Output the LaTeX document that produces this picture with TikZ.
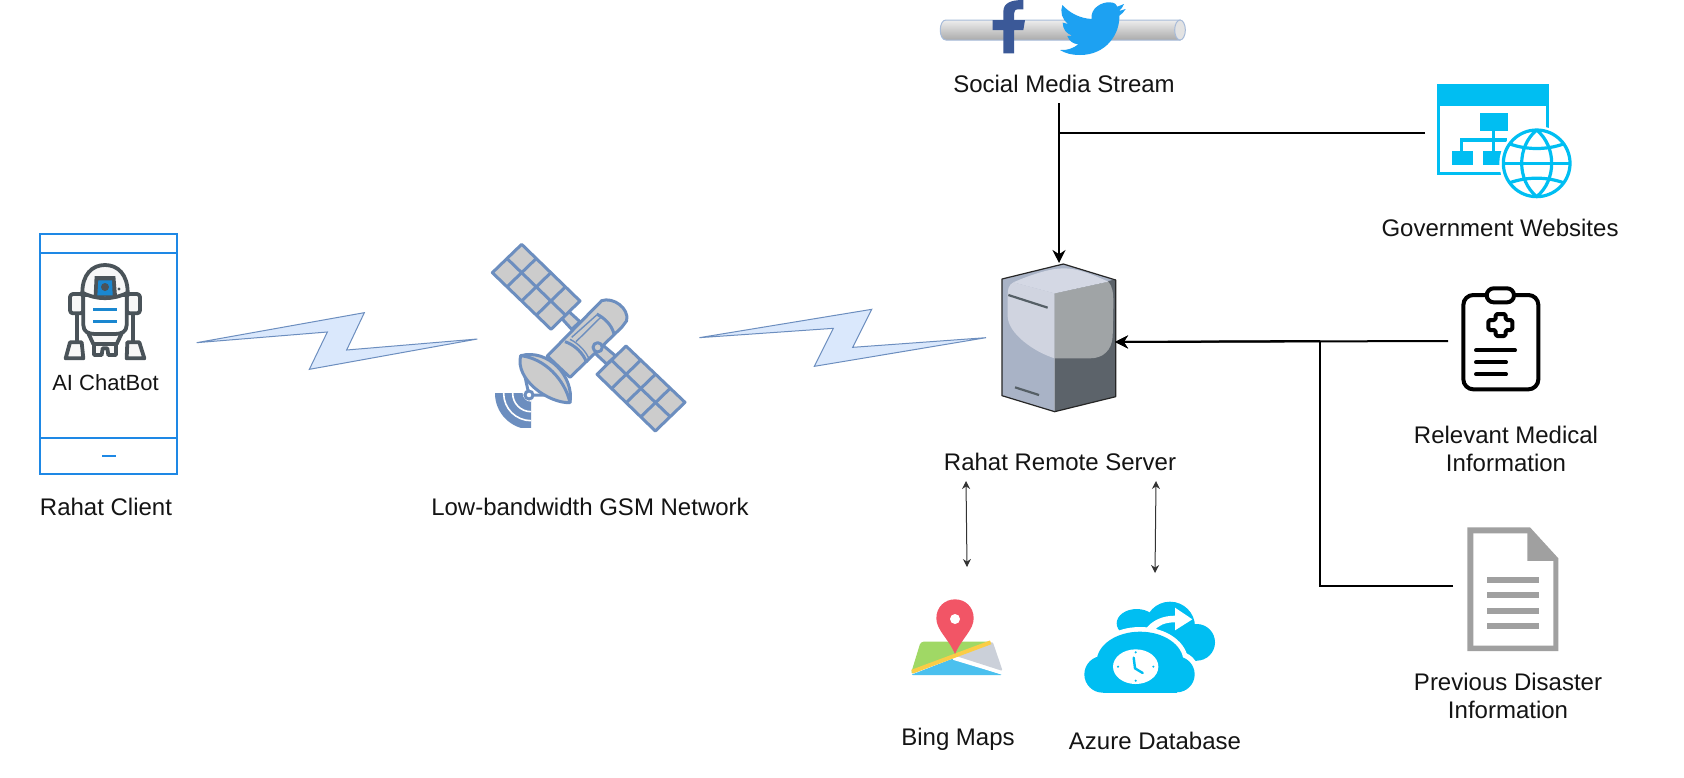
\documentclass[tikz,border=0pt]{standalone}
\usepackage{fontspec}
\setmainfont{Liberation Sans}
\usetikzlibrary{arrows.meta}
\definecolor{cyanicon}{HTML}{00BEF2}
\definecolor{robotgrey}{HTML}{4A5359}
\definecolor{robotblue}{HTML}{1A87D0}
\definecolor{phoneblue}{HTML}{1E88E5}
\definecolor{satblue}{HTML}{6C8EBF}
\definecolor{flashfill}{HTML}{DAE8FC}
\definecolor{docgrey}{HTML}{A0A0A0}
\tikzset{
  zoomat/.style 2 args={shift={(#1,#2)},x=0.16667pt,y=-0.16667pt},
  lbl/.style={font=\fontsize{12}{14}\selectfont,text=black!92,inner sep=0pt,align=center},
  smalllbl/.style={lbl,font=\fontsize{11}{13}\selectfont},
  link/.style={draw=black,line width=1pt},
  linkarrow/.style={link,-{Stealth[length=6.5pt,width=6.5pt]}},
  bidir/.style={draw=black!80,line width=0.5pt,{Stealth[length=4pt,width=4pt]}-{Stealth[length=4pt,width=4pt]}},
  flash/.style={draw=satblue,fill=flashfill,line width=0.5pt,line join=miter},
  phone/.style={draw=phoneblue,line width=1.1pt},
  satpart/.style={draw=satblue,fill=black!20,line width=1.5pt,line join=round},
  satline/.style={draw=satblue,line width=1.5pt},
  rob/.style={draw=robotgrey,fill=black!3,line width=1.9pt,line join=round,line cap=round},
  govline/.style={draw=cyanicon,line width=1.6pt},
  medline/.style={draw=black,line width=2pt,line cap=round},
}
\begin{document}
\begin{tikzpicture}[x=0.5pt,y=-0.5pt]
\useasboundingbox (0,0) rectangle (1684,777);
\fill[white] (0,0) rectangle (1684,777);

% anchors of connectors
\coordinate (socialOut) at (1059,103);
\coordinate (serverTop) at (1059,263);
\coordinate (govJoin) at (1059,133);
\coordinate (govIn) at (1425,133);
\coordinate (serverRight) at (1115,342);
\coordinate (medIn) at (1448,341);
\coordinate (docJoin) at (1320,341);
\coordinate (docCorner) at (1320,586);
\coordinate (docIn) at (1453,586);
\coordinate (bingA) at (966,481);
\coordinate (bingB) at (967,567);
\coordinate (azureA) at (1156,481);
\coordinate (azureB) at (1155,573);

% phone
\draw[phone] (40,234) rectangle (177,474);
\draw[phone] (40,253) -- (177,253);
\draw[phone] (40,438) -- (177,438);
\draw[phone] (102,456) -- (116,456);

% robot
\begin{scope}[zoomat={20}{220}]
  \draw[rob] (170,280) -- (170,365);
  \draw[rob] (340,280) -- (340,365);
  \draw[rob,rounded corners=1.5pt] (150,222) rectangle (190,280);
  \draw[rob,rounded corners=1.5pt] (320,222) rectangle (360,280);
  \draw[rob] (150,367) -- (185,367) -- (190,415) -- (137,415) -- cycle;
  \draw[rob] (322,367) -- (358,367) -- (373,415) -- (320,415) -- cycle;
  \draw[rob] (205,340) -- (305,340) -- (290,372) -- (220,372) -- cycle;
  \draw[rob] (222,372) -- (288,372) -- (288,405) -- (265,405) -- (262,385) -- (248,385) -- (245,405) -- (222,405) -- cycle;
  \draw[rob,fill=white] (190,225) -- (190,315) .. controls (190,335) and (205,342) .. (225,342) -- (285,342) .. controls (305,342) and (320,335) .. (320,315) -- (320,225) -- cycle;
  \draw[rob] (187,218) .. controls (187,165) and (215,135) .. (255,135) .. controls (295,135) and (323,165) .. (323,218) .. controls (280,240) and (230,240) .. (187,218) -- cycle;
  \fill[robotgrey] (224,168) -- (286,168) -- (291,229) -- (221,229) -- cycle;
  \fill[robotblue] (235,181) -- (276,181) -- (278,226) -- (232,226) -- cycle;
  \fill[robotgrey] (255,201) circle[radius=12];
  \fill[robotgrey] (297,207) circle[radius=5];
  \draw[draw=robotblue,line width=1.8pt] (220,268) -- (290,268);
  \draw[draw=robotblue,line width=1.8pt] (220,305) -- (290,305);
\end{scope}

% flashes
\begin{scope}[zoomat={190}{300}]
  \draw[flash] (20,128) -- (523,38) -- (470,150) -- (862,117) -- (358,208) -- (412,96) -- cycle;
\end{scope}
\begin{scope}[zoomat={690}{300}]
  \draw[flash] (28,113) -- (545,28) -- (488,142) -- (888,113) -- (373,199) -- (430,85) -- cycle;
\end{scope}

% satellite
\begin{scope}[zoomat={470}{230}]
  % signal waves
  \begin{scope}
    \clip (75,490) rectangle (183,593);
    \fill[satblue] (183,490) circle[radius=108];
    \draw[white,line width=0.8pt] (183,490) circle[radius=82];
    \draw[white,line width=0.8pt] (183,490) circle[radius=55];
    \fill[white] (183,490) circle[radius=25];
  \end{scope}
  % arms
  \draw[satpart] (297,245) -- (330,275) -- (305,298) -- (275,265) -- cycle;
  \draw[satpart] (392,340) -- (437,378) -- (410,402) -- (370,365) -- cycle;
  % panels
  \foreach \ax/\ay/\bx/\by/\cx/\cy/\dx/\dy in {155/43/330/213/243/298/67/128,468/348/645/517/556/603/381/433}{
    \draw[satpart] (\ax,\ay) -- (\bx,\by) -- (\cx,\cy) -- (\dx,\dy) -- cycle;
    \draw[satline] ({(\ax+\dx)/2},{(\ay+\dy)/2}) -- ({(\bx+\cx)/2},{(\by+\cy)/2});
    \foreach \t in {0.25,0.5,0.75}{
      \draw[satline] ({\ax+\t*(\bx-\ax)},{\ay+\t*(\by-\ay)}) -- ({\dx+\t*(\cx-\dx)},{\dy+\t*(\cy-\dy)});
    }
  }
  % body
  \draw[satpart] (232,378) -- (395,212) .. controls (430,200) and (478,235) .. (470,272) -- (455,292) -- (300,442) -- cycle;
  \draw[satline] (380,252) .. controls (405,265) and (425,285) .. (432,312);
  \draw[satline] (285,335) .. controls (315,345) and (340,370) .. (350,398);
  \draw[draw=satblue,line width=0.7pt] (300,328) .. controls (325,340) and (350,365) .. (358,390);
  \draw[draw=satblue,line width=0.7pt] (305,322) -- (380,255);
  \draw[draw=satblue,line width=0.7pt] (318,335) -- (392,262);
  \draw[satpart] (383,352) circle[radius=14];
  % dish
  \draw[satline] (165,440) -- (177,495) -- (300,495);
  \draw[satpart] (152,377) .. controls (235,355) and (313,440) .. (300,518) .. controls (235,520) and (134,448) .. (152,377) -- cycle;
  \draw[satline] (152,377) .. controls (225,385) and (285,450) .. (300,518);
  \draw[satline,fill=white] (177,495) circle[radius=12];
\end{scope}

% social media pipe
\begin{scope}[zoomat={920}{0}]
  \draw[draw=satblue!60,line width=0.5pt,top color=black!7,bottom color=black!33] (78,60) -- (780,60) -- (780,120) -- (78,120) .. controls (55,120) and (55,60) .. (78,60) -- cycle;
  \draw[draw=satblue!60,line width=0.5pt,fill=black!11] (780,90) ellipse[x radius=16,y radius=30];
  \fill[fill={rgb,255:red,59;green,89;blue,152}] (250,160) -- (250,90) -- (218,90) -- (218,60) -- (250,60) -- (250,35) .. controls (250,10) and (270,0) .. (310,0) -- (310,28) -- (295,28) .. controls (285,28) and (282,33) .. (282,42) -- (282,60) -- (315,60) -- (310,90) -- (282,90) -- (282,160) -- cycle;
  \fill[fill={rgb,255:red,29;green,161;blue,242}] (427,15) .. controls (450,40) and (480,55) .. (515,57) .. controls (510,25) and (545,5) .. (570,7) .. controls (585,7) and (590,15) .. (592,20) -- (612,12) .. controls (608,22) and (603,28) .. (597,33) -- (617,27) .. controls (612,36) and (605,42) .. (598,47) .. controls (600,100) and (560,165) .. (480,165) .. controls (455,165) and (435,160) .. (420,150) .. controls (440,152) and (460,145) .. (475,133) .. controls (460,132) and (447,123) .. (442,108) -- (457,107) .. controls (440,102) and (428,88) .. (428,68) -- (445,72) .. controls (425,58) and (420,35) .. (427,15) -- cycle;
\end{scope}

% server
\begin{scope}[zoomat={960}{250}]
  \fill[fill={rgb,255:red,169;green,179;blue,198}] (126,87) -- (310,42) -- (467,90) -- (284,135) -- (284,485) -- (126,437) -- cycle;
  \fill[fill={rgb,255:red,92;green,99;blue,106}] (284,130) -- (467,88) -- (467,440) -- (284,485) -- cycle;
  \fill[fill={rgb,255:red,208;green,212;blue,224}] (284,130) -- (160,97) .. controls (145,105) and (143,120) .. (143,135) -- (143,200) .. controls (145,250) and (220,305) .. (284,325) -- cycle;
  \fill[fill={rgb,255:red,160;green,164;blue,166}] (284,130) -- (445,95) .. controls (458,110) and (460,130) .. (460,160) -- (458,260) .. controls (455,300) and (430,325) .. (390,325) -- (284,325) -- cycle;
  \fill[fill={rgb,255:red,212;green,216;blue,228}] (160,97) .. controls (210,75) and (270,55) .. (310,55) .. controls (360,55) and (410,80) .. (445,95) -- (284,130) -- cycle;
  \draw[draw={rgb,255:red,85;green,95;blue,102},line width=1.1pt] (145,135) -- (263,173);
  \draw[draw={rgb,255:red,85;green,95;blue,102},line width=1.1pt] (165,412) -- (237,435);
  \draw[black!85,line width=0.6pt,line join=round] (126,87) -- (310,42) -- (467,90) -- (467,440) -- (284,485) -- (126,437) -- cycle;
\end{scope}

% government websites icon
\begin{scope}[zoomat={1420}{70}]
  \fill[cyanicon] (50,43) rectangle (388,107);
  \draw[govline] (55,100) -- (55,311) -- (383,311) -- (383,100);
  \fill[cyanicon] (180,128) rectangle (263,182);
  \fill[cyanicon] (97,242) rectangle (160,286);
  \fill[cyanicon] (190,242) rectangle (255,286);
  \draw[govline] (220,182) -- (220,242);
  \draw[govline] (125,242) -- (125,210) -- (260,210);
  \fill[white] (350,280) circle[radius=112];
  \draw[govline,fill=white] (350,280) circle[radius=100];
  \draw[govline] (350,180) .. controls (290,230) and (290,330) .. (350,380);
  \draw[govline] (350,180) .. controls (410,230) and (410,330) .. (350,380);
  \draw[govline] (250,280) -- (450,280);
  \draw[govline] (270,222) .. controls (320,240) and (380,240) .. (430,222);
  \draw[govline] (270,338) .. controls (320,320) and (380,320) .. (430,338);
\end{scope}

% medical icon
\begin{scope}[zoomat={1430}{270}]
  \draw[medline,rounded corners=5pt] (100,75) rectangle (325,358);
  \draw[medline,fill=white,rounded corners=3.5pt] (170,55) rectangle (252,97);
  \draw[medline,rounded corners=0.8pt,line join=round] (197,132) -- (227,132) -- (227,150) -- (247,150) -- (247,180) -- (227,180) -- (227,198) -- (197,198) -- (197,180) -- (175,180) -- (175,150) -- (197,150) -- cycle;
  \draw[medline] (138,241) -- (255,241);
  \draw[medline] (138,277) -- (228,277);
  \draw[medline] (138,313) -- (228,313);
\end{scope}

% document icon
\begin{scope}[zoomat={1420}{515}]
  \fill[docgrey] (142,37) -- (330,37) -- (415,130) -- (415,408) -- (142,408) -- cycle;
  \fill[white] (160,55) -- (322,55) -- (322,138) -- (400,138) -- (400,392) -- (160,392) -- cycle;
  \foreach \yy in {195,241,287,333}{
    \fill[docgrey] (202,\yy-9) rectangle (357,\yy+9);
  }
\end{scope}

% map icon
\begin{scope}[zoomat={890}{585}]
  \fill[fill={rgb,255:red,160;green,216;blue,101},rounded corners=1.5pt] (92,170) -- (300,170) -- (62,268) -- cycle;
  \fill[fill={rgb,255:red,75;green,192;blue,238},rounded corners=1pt] (62,270) -- (190,220) -- (338,270) -- cycle;
  \fill[fill={rgb,255:red,203;green,208;blue,217},rounded corners=1pt] (195,212) -- (308,170) -- (338,258) -- cycle;
  \draw[draw=white,line width=1.2pt] (190,221) -- (336,265);
  \draw[draw={rgb,255:red,250;green,205;blue,70},line width=2pt] (66,260) -- (302,172);
  \fill[fill={rgb,255:red,242;green,85;blue,102}] (195,207) .. controls (175,160) and (139,135) .. (139,100) .. controls (139,65) and (165,43) .. (195,43) .. controls (225,43) and (251,65) .. (251,100) .. controls (251,135) and (215,160) .. (195,207) -- cycle;
  \fill[white] (195,102) circle[radius=15];
\end{scope}

% cloud icon
\begin{scope}[zoomat={890}{585}]
  \fill[cyanicon] (740,115) ellipse[x radius=60,y radius=43];
  \fill[cyanicon] (840,125) circle[radius=75];
  \fill[cyanicon] (920,172) circle[radius=55];
  \fill[cyanicon] (700,125) rectangle (920,227);
  \fill[white] (640,268) circle[radius=68];
  \fill[white] (750,230) ellipse[x radius=144,y radius=104];
  \fill[white] (860,266) circle[radius=68];
  \fill[cyanicon] (638,268) circle[radius=55];
  \fill[cyanicon] (750,230) ellipse[x radius=130,y radius=90];
  \fill[cyanicon] (860,268) circle[radius=54];
  \fill[cyanicon] (638,250) rectangle (860,323);
  \fill[white] (737,245) ellipse[x radius=68,y radius=52];
  \draw[draw=cyanicon,line width=1.2pt,line cap=round] (731,218) -- (735,250) -- (758,264);
  \foreach \dx/\dy in {737/202,737/287,684/245,790/245}{\fill[cyanicon] (\dx,\dy) circle[radius=3.5];}
  \fill[white] (765,135) .. controls (785,105) and (820,92) .. (855,92) -- (855,68) -- (907,103) -- (855,136) -- (855,112) .. controls (825,112) and (805,120) .. (790,140) -- cycle;
\end{scope}

% connectors
\draw[linkarrow] (socialOut) -- (serverTop);
\draw[link] (govIn) -- (govJoin);
\draw[linkarrow] (medIn) -- (serverRight);
\draw[link] (docIn) -- (docCorner) -- (docJoin);
\draw[linkarrow] (docJoin) -- (serverRight);
\draw[bidir] (bingA) -- (bingB);
\draw[bidir] (azureA) -- (azureB);

% labels
\node[smalllbl] (aibot) at (105.5,383) {AI ChatBot};
\node[lbl] (client) at (106,507) {Rahat Client};
\node[lbl] (gsm) at (590,507) {Low-bandwidth GSM Network};
\node[lbl] (social) at (1064,84) {Social Media Stream};
\node[lbl] (gov) at (1500,228) {Government Websites};
\node[lbl] (server) at (1060,462) {Rahat Remote Server};
\node[lbl] (med) at (1506,449) {Relevant Medical\\Information};
\node[lbl] (doc) at (1508,696) {Previous Disaster\\Information};
\node[lbl] (bing) at (958,739) {Bing Maps};
\node[lbl] (azure) at (1155,741) {Azure Database};
\end{tikzpicture}
\end{document}
